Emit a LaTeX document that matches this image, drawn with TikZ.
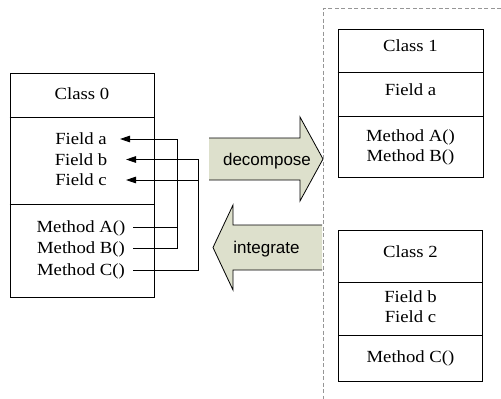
\documentclass[tikz,border=0pt]{standalone}
\usepackage{fontspec}
\setmainfont{Liberation Serif}[FakeStretch=1.1]
\newfontfamily\sansf{Liberation Sans}
\usetikzlibrary{arrows.meta}
\definecolor{arrowfill}{RGB}{221,224,204}
\definecolor{dashgray}{RGB}{150,150,150}
\begin{document}
\begin{tikzpicture}[x=1pt,y=-1pt,
  frame/.style={draw=black, line width=0.8pt, minimum width=#1, inner sep=0pt},
  txt/.style={font=\fontsize{17}{20}\selectfont, inner sep=0pt, text height=11.5pt, text depth=0pt},
  lbl/.style={font=\sansf\fontsize{17}{20}\selectfont, inner sep=0pt, text height=11.5pt, text depth=0pt},
  sep/.style={draw=black, line width=0.8pt},
  link/.style={draw=black, line width=0.8pt},
  tip/.style={-{Triangle[length=10pt,width=6.5pt]}},
  bigarrow/.style={draw=black, line width=0.8pt, line join=miter},
  border/.style={draw=dashgray, line width=1pt, dash pattern=on 4pt off 2.5pt}]
\useasboundingbox (0,0) rectangle (501,399);

% ---------- Class 0 ----------
\node[frame=144pt, minimum height=224pt] (c0) at (82,185) {};
\draw[sep] (c0.west |- 0,117) -- (c0.east |- 0,117);
\draw[sep] (c0.west |- 0,204) -- (c0.east |- 0,204);
\node[txt] (c0n) at (82,94) {Class 0};
\node[txt] (c0fa) at (81,139) {Field a};
\node[txt] (c0fb) at (81,159.5) {Field b};
\node[txt] (c0fc) at (81,180) {Field c};
\node[txt] (c0ma) at (81,227) {Method A()};
\node[txt] (c0mb) at (81,248) {Method B()};
\node[txt] (c0mc) at (81,270) {Method C()};

% connector ends
\coordinate (faE) at (120,139);
\coordinate (fbE) at (126,159.5);
\coordinate (fcE) at (126,180);
\coordinate (maE) at (133,227);
\coordinate (mbE) at (133,248);
\coordinate (mcE) at (133,270);
\coordinate (j1) at (177,139);
\coordinate (j2) at (198,159.5);

\draw[link] (maE) -- (maE -| j1);
\draw[link, tip] (mbE) -| (j1) -- (faE);
\draw[link, tip] (mcE) -| (j2) -- (fbE);
\draw[link, tip] (fcE -| j2) -- (fcE);

% ---------- big arrows ----------
\fill[arrowfill] (209,138) -- (300,138) -- (300,117) -- (323,159) -- (300,201) -- (300,180) -- (209,180) -- cycle;
\draw[bigarrow] (209,138) -- (300,138) -- (300,117) -- (323,159) -- (300,201) -- (300,180) -- (209,180);
\node[lbl] (dec) at (267,160) {decompose};

\fill[arrowfill] (322,225) -- (233,225) -- (233,205) -- (213,247.5) -- (233,290) -- (233,270) -- (322,270) -- cycle;
\draw[bigarrow] (322,225) -- (233,225) -- (233,205) -- (213,247.5) -- (233,290) -- (233,270) -- (322,270);
\node[lbl] (int) at (266.5,248) {integrate};

% ---------- dashed border ----------
\coordinate (dTL) at (323,8);
\coordinate (dTR) at (501,8);
\coordinate (dBL) at (323,399);
\draw[border] (dTR) -- (dTL) -- (dBL);

% ---------- Class 1 ----------
\node[frame=145pt, minimum height=148.5pt] (c1) at (410.5,103.25) {};
\draw[sep] (c1.west |- 0,72.7) -- (c1.east |- 0,72.7);
\draw[sep] (c1.west |- 0,116.5) -- (c1.east |- 0,116.5);
\node[txt] (c1n) at (410.5,46) {Class 1};
\node[txt] (c1fa) at (410.5,90) {Field a};
\node[txt] (c1ma) at (410.5,135.5) {Method A()};
\node[txt] (c1mb) at (410.5,155.5) {Method B()};

% ---------- Class 2 ----------
\node[frame=144pt, minimum height=151.5pt] (c2) at (410.5,306) {};
\draw[sep] (c2.west |- 0,282.7) -- (c2.east |- 0,282.7);
\draw[sep] (c2.west |- 0,335) -- (c2.east |- 0,335);
\node[txt] (c2n) at (410.5,252) {Class 2};
\node[txt] (c2fb) at (410.5,297) {Field b};
\node[txt] (c2fc) at (410.5,317) {Field c};
\node[txt] (c2mc) at (410.5,357) {Method C()};
\end{tikzpicture}
\end{document}
